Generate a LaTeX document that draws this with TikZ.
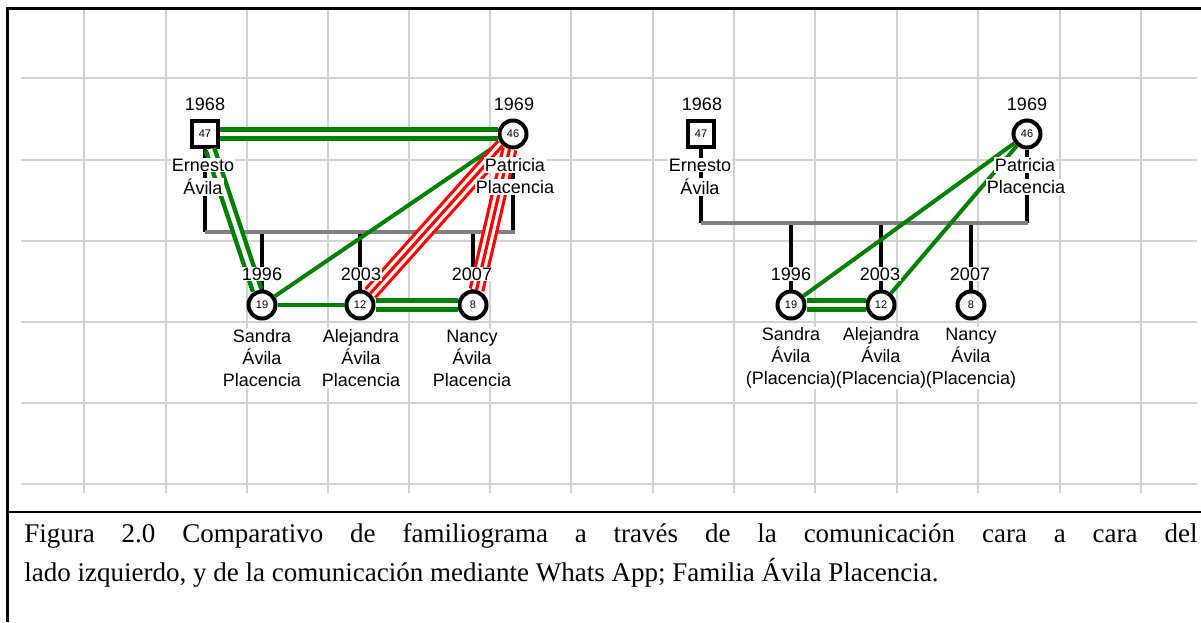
\documentclass[tikz,border=0pt]{standalone}
\usepackage{fontspec}
\setmainfont{Liberation Sans}
\newfontfamily\capfont{Liberation Serif}
\definecolor{famgreen}{RGB}{0,128,0}
\definecolor{famred}{RGB}{255,0,0}
\definecolor{famgray}{RGB}{128,128,128}
\definecolor{gridgray}{RGB}{210,210,210}

\begin{document}
\begin{tikzpicture}[x=0.5pt, y=-0.5pt,
  male/.style={draw, rectangle, line width=2pt, minimum size=13pt, fill=white, inner sep=0pt, font=\fontsize{5.5}{6}\selectfont},
  female/.style={draw, circle, line width=2pt, minimum size=13.5pt, fill=white, inner sep=0pt, font=\fontsize{5.5}{6}\selectfont},
  year/.style={fill=white, inner sep=0.5pt, font=\fontsize{9}{11}\selectfont},
  who/.style={fill=white, inner sep=0.5pt, align=center, font=\fontsize{9}{11}\selectfont},
  drop/.style={line width=2pt, black},
  union/.style={line width=2pt, famgray},
  onegreen/.style={line width=2pt, famgreen},
  twogreen/.style={line width=2.2pt, famgreen, double=white, double distance=2.2pt},
  threered/.style={line width=1.6pt, famred, double=white, double distance=4.8pt},
  redmid/.style={line width=1.6pt, famred},
  gridline/.style={line width=0.75pt, gridgray},
  caption/.style={anchor=base west, inner sep=0pt, font=\capfont\fontsize{13.5}{16}\selectfont}]
\useasboundingbox (0,0) rectangle (1201,622);
\foreach \y in {78,160,241,322,403,484}
  \draw[gridline] (21,\y) -- (1197,\y);
\foreach \x in {84,166,247,328,409,490,571,653,734,815,897,978,1060,1141}
  \draw[gridline] (\x,8) -- (\x,493);
\draw[line width=1.5pt] (7,622) -- (7,8) -- (1201,8);
\draw[line width=1.25pt] (7,512) -- (1201,512);

\node[male] (ern1) at (205,134) {47};
\node[female] (pat1) at (513,134) {46};
\node[female] (san1) at (262,305) {19};
\node[female] (ale1) at (360,305) {12};
\node[female] (nan1) at (473,305) {8};
\coordinate (u1a) at (205,232);
\coordinate (u1b) at (515,232);
\draw[drop] (ern1) -- (ern1 |- u1a);
\draw[drop] (pat1) -- (pat1 |- u1a);
\draw[drop] (san1) -- (san1 |- u1a);
\draw[drop] (ale1) -- (ale1 |- u1a);
\draw[drop] (nan1) -- (nan1 |- u1a);
\draw[union] (u1a) -- (u1b);
\draw[twogreen] (ern1) -- (pat1);
\draw[twogreen] (ern1) -- (san1);
\draw[onegreen] (pat1) -- (san1);
\draw[threered] (pat1) -- (ale1);
\draw[redmid] (pat1) -- (ale1);
\draw[threered] (pat1) -- (nan1);
\draw[redmid] (pat1) -- (nan1);
\draw[onegreen] (san1) -- (ale1);
\draw[twogreen] (ale1) -- (nan1);
\node[year] (ern1y) at (205,104) {1968};
\node[year] (pat1y) at (514,104) {1969};
\node[who] (ern1n) at (203,165) {Ernesto};
\node[who] (ern1s) at (203,187) {Ávila};
\node[who] (pat1n) at (515,165) {Patricia};
\node[who] (pat1s) at (515,187) {Placencia};
\node[year] (san1y) at (262,274) {1996};
\node[year] (ale1y) at (361,274) {2003};
\node[year] (nan1y) at (472,274) {2007};
\node[who] (san1n) at (262,358) {Sandra\\Ávila\\Placencia};
\node[who] (ale1n) at (361,358) {Alejandra\\Ávila\\Placencia};
\node[who] (nan1n) at (472,358) {Nancy\\Ávila\\Placencia};

\node[male] (ern2) at (701,134) {47};
\node[female] (pat2) at (1027,134) {46};
\node[female] (san2) at (791,305) {19};
\node[female] (ale2) at (881,305) {12};
\node[female] (nan2) at (971,305) {8};
\coordinate (u2a) at (701,223);
\coordinate (u2b) at (1028,223);
\draw[drop] (ern2) -- (ern2 |- u2a);
\draw[drop] (pat2) -- (pat2 |- u2a);
\draw[drop] (san2) -- (san2 |- u2a);
\draw[drop] (ale2) -- (ale2 |- u2a);
\draw[drop] (nan2) -- (nan2 |- u2a);
\draw[union] (u2a) -- (u2b);
\draw[onegreen] (san2) -- (pat2);
\draw[onegreen] (ale2) -- (pat2);
\draw[twogreen] (san2) -- (ale2);
\node[year] (ern2y) at (702,104) {1968};
\node[year] (pat2y) at (1027,104) {1969};
\node[who] (ern2n) at (700,165) {Ernesto};
\node[who] (ern2s) at (700,187) {Ávila};
\node[who] (pat2n) at (1025,165) {Patricia};
\node[who] (pat2s) at (1026,187) {Placencia};
\node[year] (san2y) at (791,274) {1996};
\node[year] (ale2y) at (880,274) {2003};
\node[year] (nan2y) at (970,274) {2007};
\node[who] (san2n) at (791,358) {Sandra\\Ávila\\(Placencia)};
\node[who] (ale2n) at (881,358) {Alejandra\\Ávila\\(Placencia)};
\node[who] (nan2n) at (971,358) {Nancy\\Ávila\\(Placencia)};

\node[caption] (cap1) at (24,542) {\makebox[586.5pt][s]{Figura 2.0 Comparativo de familiograma a través de la comunicación cara a cara del}};
\node[caption] (cap2) at (24,581) {lado izquierdo, y de la comunicación mediante Whats App; Familia Ávila Placencia.};
\end{tikzpicture}
\end{document}
